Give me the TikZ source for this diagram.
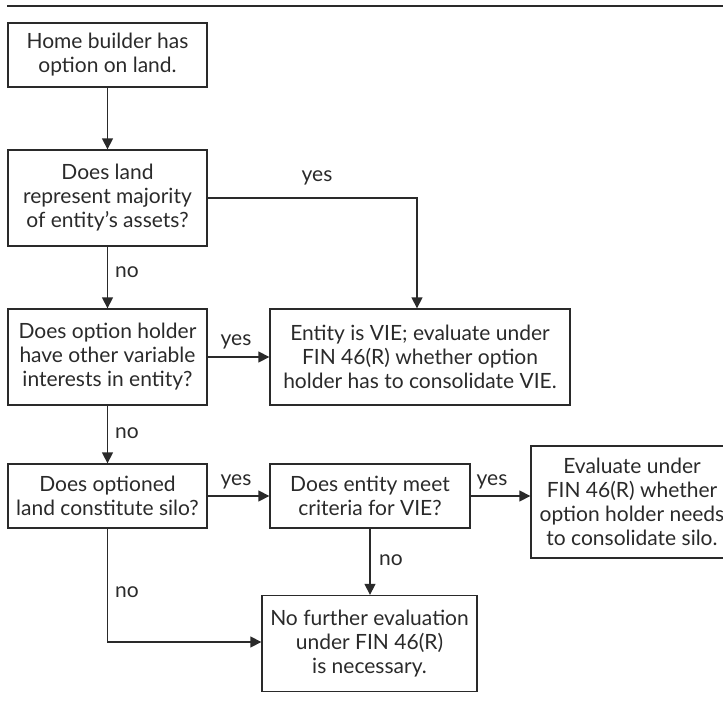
\documentclass[tikz,border=0pt]{standalone}
\usepackage{fontspec}
\setmainfont{Lato}
\usetikzlibrary{arrows.meta}
\definecolor{ink}{HTML}{2A2A2A}
\tikzset{
  box/.style={draw=ink, line width=1.3pt, text=ink, align=center, inner sep=0pt, font=\fontsize{21}{24}\selectfont},
  conn/.style={draw=ink, line width=1.3pt, -{Triangle[length=11pt,width=11pt]}},
  lab/.style={text=ink, font=\fontsize{21}{24}\selectfont, inner sep=0pt}
}
\begin{document}
\begin{tikzpicture}[x=1pt,y=-1pt]
\useasboundingbox (0,0) rectangle (723,704);
\draw[ink, line width=2.2pt] (7,6) -- (723,6);
\node[box, minimum width=199pt, minimum height=64pt] (b1) at (107.5,55) {Home builder has\\option on land.};
\node[box, minimum width=199pt, minimum height=96pt] (b2) at (107.5,198) {Does land\\represent majority\\of entity’s assets?};
\node[box, minimum width=199pt, minimum height=96pt] (b3) at (107.5,357) {Does option holder\\have other variable\\interests in entity?};
\node[box, minimum width=300pt, minimum height=96pt] (vie) at (420,357) {Entity is VIE; evaluate under\\FIN 46(R) whether option\\holder has to consolidate VIE.};
\node[box, minimum width=199pt, minimum height=64pt] (b4) at (107.5,496) {Does optioned\\land constitute silo?};
\node[box, minimum width=200pt, minimum height=64pt] (b5) at (370,496) {Does entity meet\\criteria for VIE?};
\node[box, minimum width=202pt, minimum height=112pt] (b6) at (632,502) {Evaluate under\\FIN 46(R) whether\\option holder needs\\to consolidate silo.};
\node[box, minimum width=215pt, minimum height=96pt] (fin) at (369.5,643.5) {No further evaluation\\under FIN 46(R)\\is necessary.};
\coordinate (c1) at (417,198);
\coordinate (c2) at (107.5,642);
\draw[conn] (b1) -- (b2);
\draw[conn] (b2.east) -- (c1) -- (vie.north -| c1);
\draw[conn] (b2) -- (b3);
\draw[conn] (b3) -- (vie);
\draw[conn] (b3) -- (b4);
\draw[conn] (b4) -- (b5);
\draw[conn] (b5.east) -- (b5.east -| b6.west);
\draw[conn] (b5) -- (b5 |- fin.north);
\draw[conn] (b4.south) -- (c2) -- (c2 -| fin.west);
\node[lab] (l1) at (317,178) {yes};
\node[lab] (l2) at (127,272) {no};
\node[lab] (l3) at (236,342) {yes};
\node[lab] (l4) at (127,433) {no};
\node[lab] (l5) at (236,482) {yes};
\node[lab] (l6) at (492,482) {yes};
\node[lab] (l7) at (391,560) {no};
\node[lab] (l8) at (127,592) {no};
\end{tikzpicture}
\end{document}
